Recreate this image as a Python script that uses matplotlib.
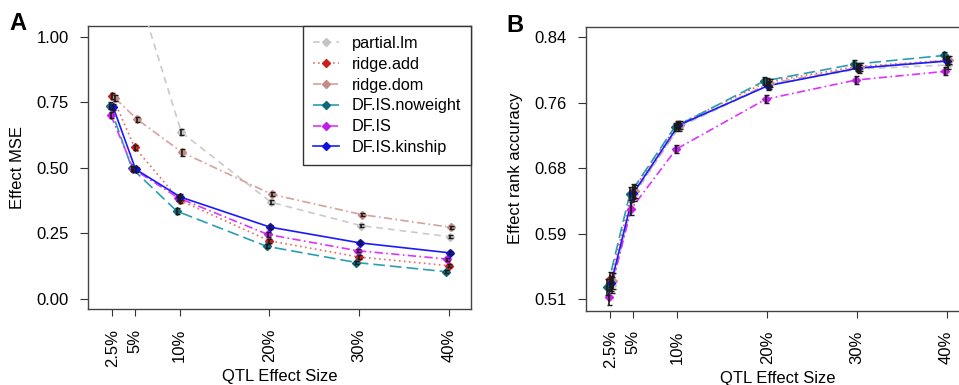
import matplotlib.pyplot as plt
import numpy as np

plt.rcParams['font.family'] = ['Liberation Sans', 'DejaVu Sans']

# QTL effect sizes (%)
effect_size = [2.5, 5, 10, 20, 30, 40]
tick_labels = ['2.5%', '5%', '10%', '20%', '30%', '40%']

methods = ['partial.lm', 'ridge.add', 'ridge.dom', 'DF.IS.noweight', 'DF.IS', 'DF.IS.kinship']

# panel A: effect MSE
mse_partial_lm = [2.0, 1.19, 0.635, 0.368, 0.279, 0.236]
mse_ridge_add = [0.773, 0.577, 0.376, 0.221, 0.159, 0.126]
mse_ridge_dom = [0.765, 0.684, 0.558, 0.398, 0.321, 0.272]
mse_df_noweight = [0.737, 0.497, 0.334, 0.200, 0.138, 0.103]
mse_df_is = [0.700, 0.495, 0.385, 0.245, 0.183, 0.151]
mse_df_kinship = [0.731, 0.494, 0.388, 0.273, 0.213, 0.175]
mse_err = [0.012, 0.010, 0.012, 0.008, 0.006, 0.006]

# panel B: effect rank accuracy
acc_partial_lm = [0.528, 0.642, 0.727, 0.780, 0.800, 0.805]
acc_ridge_add = [0.535, 0.647, 0.730, 0.784, 0.803, 0.811]
acc_ridge_dom = [0.533, 0.646, 0.729, 0.782, 0.802, 0.811]
acc_df_noweight = [0.526, 0.643, 0.727, 0.785, 0.806, 0.817]
acc_df_is = [0.513, 0.624, 0.699, 0.762, 0.786, 0.797]
acc_df_kinship = [0.530, 0.644, 0.729, 0.779, 0.801, 0.810]
acc_err = [0.010, 0.008, 0.005, 0.005, 0.005, 0.005]

# style per method: line color, marker color, linestyle, x-jitter
styles = {
    'partial.lm': ('#cacaca', '#c4c4c4', (0, (4, 3)), 0.2),
    'ridge.add': ('#ea6a66', '#c8201c', (0, (1, 2)), 0.0),
    'ridge.dom': ('#d4a29c', '#c48c86', (0, (5, 2, 1, 2)), 0.3),
    'DF.IS.noweight': ('#2a9fb0', '#0f6a78', (0, (7, 3)), -0.3),
    'DF.IS': ('#dd33ff', '#c21ee6', (0, (5, 2, 1, 2)), -0.15),
    'DF.IS.kinship': ('#1a1aff', '#1010e0', '-', 0.1),
}

mse = dict(zip(methods, [mse_partial_lm, mse_ridge_add, mse_ridge_dom,
                         mse_df_noweight, mse_df_is, mse_df_kinship]))
acc = dict(zip(methods, [acc_partial_lm, acc_ridge_add, acc_ridge_dom,
                         acc_df_noweight, acc_df_is, acc_df_kinship]))

fig = plt.figure(figsize=(9.59, 3.85), dpi=100)
axA = fig.add_axes([0.0918, 0.197, 0.3994, 0.735])
axB = fig.add_axes([0.611, 0.193, 0.3994, 0.738])


def draw(ax, data, err):
    for m in methods:
        lc, mc, ls, dx = styles[m]
        x = np.array(effect_size) + dx
        ax.plot(x, data[m], color=lc, linestyle=ls, lw=1.2, zorder=3)
        ax.plot(x, data[m], linestyle='none', marker='D', ms=4.0,
                color=mc, zorder=4, label=m)
        ax.errorbar(x, data[m], yerr=err, fmt='none', ecolor='#1a1a1a',
                    elinewidth=1.2, capsize=1.8, capthick=1.0, zorder=5)
    ax.set_xlim(-0.2, 42.5)
    ax.set_xticks(effect_size)
    ax.set_xticklabels(tick_labels, rotation=90, fontsize=12)
    ax.tick_params(axis='x', length=5, pad=9, color='#333333')
    ax.tick_params(axis='y', length=6, pad=8, color='#333333', labelsize=12)
    for s in ax.spines.values():
        s.set_color('#444444')
        s.set_linewidth(1.0)
    ax.set_xlabel('QTL Effect Size', fontsize=12, labelpad=2)


draw(axA, mse, mse_err)
axA.set_ylim(-0.04, 1.04)
axA.set_yticks([0, 0.25, 0.5, 0.75, 1.0])
axA.set_yticklabels(['0.00', '0.25', '0.50', '0.75', '1.00'])
axA.set_ylabel('Effect MSE', fontsize=12, labelpad=8)

# legend with line handles
handles = []
for m in methods:
    lc, mc, ls, dx = styles[m]
    h, = axA.plot([], [], color=lc, linestyle=ls, lw=1.2, marker='D',
                  ms=4.0, markerfacecolor=mc, markeredgecolor=mc)
    handles.append(h)
leg = axA.legend(handles, methods, loc='upper right', borderaxespad=0,
                 fontsize=11.7, fancybox=False, edgecolor='#333333',
                 framealpha=1, handlelength=1.6, handletextpad=0.8,
                 labelspacing=0.36, borderpad=0.6)
leg.get_frame().set_linewidth(1.0)

draw(axB, acc, acc_err)
b_ticks = np.linspace(0.51, 0.84, 5)
axB.set_ylim(0.4957, 0.8534)
axB.set_yticks(b_ticks)
axB.set_yticklabels(['%.2f' % round(t + 1e-9, 2) for t in b_ticks])
axB.set_ylabel('Effect rank accuracy', fontsize=12, labelpad=8)

fig.text(0.010, 0.922, 'A', fontsize=17, fontweight='bold')
fig.text(0.528, 0.918, 'B', fontsize=17, fontweight='bold')

fig.savefig('out.png', dpi=100)
